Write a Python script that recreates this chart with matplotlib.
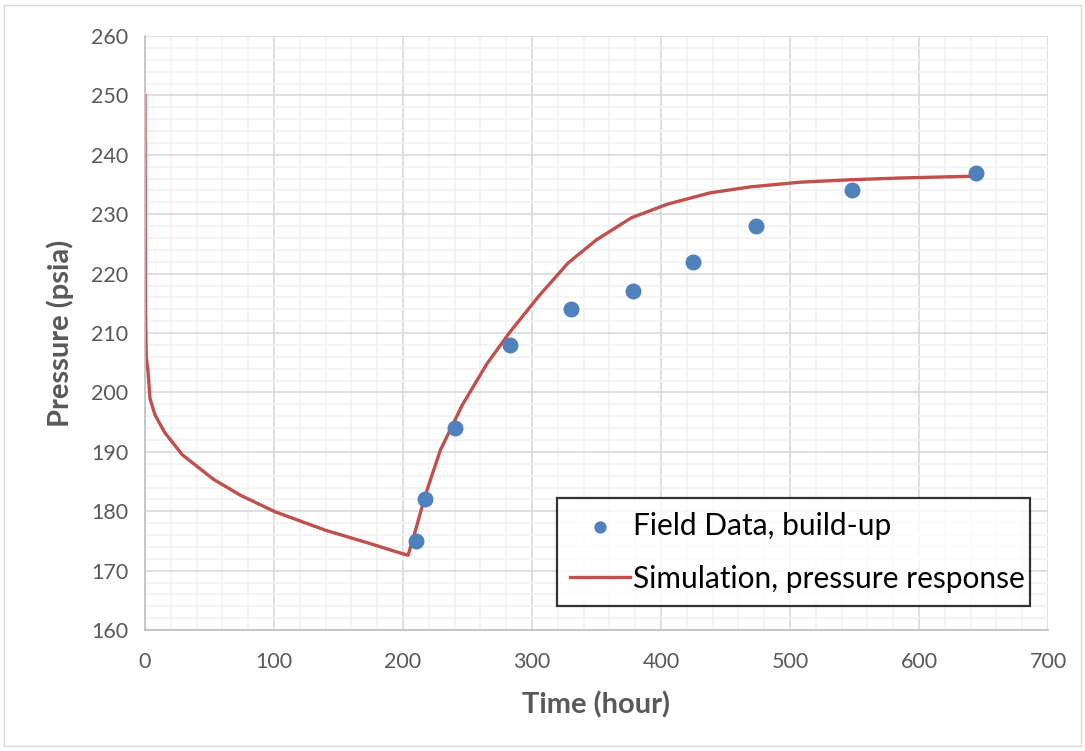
import matplotlib.pyplot as plt
from matplotlib.patches import Rectangle
from matplotlib.ticker import MultipleLocator

plt.rcParams['font.family'] = ['Lato', 'DejaVu Sans']

# simulated pressure response (hour, psia)
sim_time = [0, 0.3, 1, 2.3, 3.9, 7.8, 15.5, 29, 53, 74, 101, 140, 174, 196, 204,
            210, 217, 229, 246, 265, 283, 306, 328, 350, 377, 405, 438, 469, 508,
            546, 585, 641]
sim_pressure = [250, 215, 206, 203.8, 199, 196.2, 193.2, 189.5, 185.4, 182.7, 179.9,
                176.8, 174.6, 173.1, 172.6, 177, 182.5, 190.3, 197.9, 204.8, 210.2,
                216.4, 221.8, 225.7, 229.4, 231.7, 233.6, 234.6, 235.4, 235.8, 236.1,
                236.4]

# field build-up measurements
field_time = [210, 217, 240, 283, 330, 378, 425, 474, 548, 644]
field_pressure = [175, 182, 194, 208, 214, 217, 222, 228, 234, 237]

fig = plt.figure(figsize=(10.85, 7.51), dpi=100)
ax = fig.add_axes([0.1336, 0.161, 0.8323, 0.791])

ax.scatter(field_time, field_pressure, s=110, color='#4f81bd', zorder=3,
           label='Field Data, build-up')
ax.plot(sim_time, sim_pressure, color='#c0504d', lw=2.4, zorder=2,
        label='Simulation, pressure response')

ax.set_xlim(0, 700)
ax.set_ylim(160, 260)
ax.xaxis.set_major_locator(MultipleLocator(100))
ax.xaxis.set_minor_locator(MultipleLocator(20))
ax.yaxis.set_major_locator(MultipleLocator(10))
ax.yaxis.set_minor_locator(MultipleLocator(2))
ax.grid(which='major', color='#d9d9d9', lw=1.2)
ax.grid(which='minor', color='#f2f2f2', lw=1.2)
ax.set_axisbelow(True)
ax.tick_params(which='both', length=0, labelsize=15.5, labelcolor='#595959')
ax.tick_params(axis='x', pad=16)
ax.tick_params(axis='y', pad=12)
for s in ['top', 'right']:
    ax.spines[s].set_visible(False)
for s in ['left', 'bottom']:
    ax.spines[s].set_color('#bfbfbf')
    ax.spines[s].set_linewidth(1.2)

ax.set_xlabel('Time (hour)', fontsize=21, fontweight='bold', color='#595959', labelpad=14)
ax.set_ylabel('Pressure (psia)', fontsize=21, fontweight='bold', color='#595959', labelpad=12)

leg = ax.legend(loc='lower left', bbox_to_anchor=(0.456, 0.04, 0.524, 0.186),
                mode='expand', fontsize=21.5, frameon=True, fancybox=False,
                edgecolor='black', borderpad=0.45, labelspacing=0.85, markerscale=0.75,
                handlelength=2.0, handletextpad=0.1, borderaxespad=0)
leg.get_frame().set_linewidth(1.6)

fig.patches.append(Rectangle((0.004, 0.006), 0.992, 0.988, transform=fig.transFigure,
                             fill=False, edgecolor='#d9d9d9', lw=1))

fig.savefig('out.png', dpi=100)
